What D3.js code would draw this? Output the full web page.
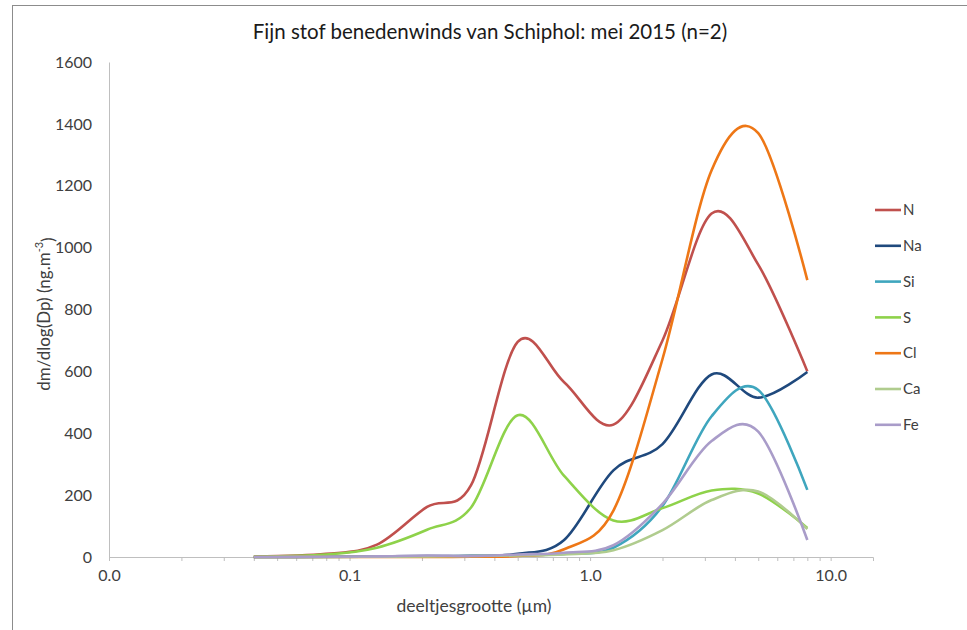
<!DOCTYPE html>
<html>
<head>
<meta charset="utf-8">
<script src="https://cdn.jsdelivr.net/npm/d3@7"></script>
<style>
  body { margin: 0; background: #fff; }
  text { font-family: Lato, "Open Sans", sans-serif; fill: #404040; }
</style>
</head>
<body>
<svg id="chart" width="967" height="630"></svg>
<script>
// particle sizes (um), midpoints of the impactor stages
var sizes = [0.04, 0.08, 0.13, 0.21, 0.32, 0.5, 0.78, 1.25, 2.0, 3.2, 5.0, 8.0];

// dm/dlog(Dp) per element (ng/m3)
var N  = [1, 10, 40, 162, 232, 695, 565, 428, 700, 1110, 945, 600];
var Na = [0, 1, 2, 3, 4, 10, 55, 280, 365, 590, 515, 598];
var Si = [0, 0, 1, 2, 3, 5, 10, 30, 165, 455, 540, 217];
var S  = [1, 8, 30, 88, 160, 458, 262, 118, 158, 215, 205, 94];
var Cl = [0, 0, 0, 0, 1, 3, 25, 150, 640, 1250, 1370, 895];
var Ca = [0, 0, 1, 2, 3, 5, 8, 22, 87, 184, 212, 90];
var Fe = [0, 1, 2, 5, 3, 8, 14, 38, 172, 375, 405, 55];

var names  = ['N', 'Na', 'Si', 'S', 'Cl', 'Ca', 'Fe'];
var colors = ['#C0504D', '#1F497D', '#3FA6BE', '#8ED24A', '#EE7716', '#B0CC8E', '#A99CC9'];
var values = [N, Na, Si, S, Cl, Ca, Fe];

var xTickLabels = [0.01, 0.1, 1, 10];
var yTicks = [0, 200, 400, 600, 800, 1000, 1200, 1400, 1600];

var svg = d3.select('#chart');

// outer frame
svg.append('rect')
  .attr('x', 12.5).attr('y', 5.5)
  .attr('width', 980).attr('height', 640)
  .attr('fill', 'none')
  .attr('stroke', '#8c8c8c');

var x = d3.scaleLog().domain([0.01, 15]).range([109, 873]);
var y = d3.scaleLinear().domain([0, 1600]).range([557, 62]);

// minor + major ticks on the log axis
var allTicks = [];
[0.01, 0.1, 1, 10].forEach(function (dec) {
  for (var k = 1; k <= 9; k++) {
    if (dec * k <= 15) allTicks.push(dec * k);
  }
});

var xAxis = d3.axisBottom(x)
  .tickValues(allTicks)
  .tickSizeInner(4)
  .tickSizeOuter(4)
  .tickPadding(9)
  .tickFormat(function (d) {
    return xTickLabels.indexOf(d) >= 0 ? d3.format('.1f')(d) : '';
  });

var gx = svg.append('g')
  .attr('transform', 'translate(0,557)')
  .call(xAxis);
gx.selectAll('path, line').attr('stroke', '#BFBFBF');
gx.selectAll('text')
  .style('font-size', '16px')
  .style('font-family', 'Lato, "Open Sans", sans-serif')
  .attr('fill', '#404040');

var yAxis = d3.axisLeft(y)
  .tickValues(yTicks)
  .tickSize(0)
  .tickPadding(17)
  .tickFormat(d3.format('d'));

var gy = svg.append('g')
  .attr('transform', 'translate(109,0)')
  .call(yAxis);
gy.select('.domain').attr('stroke', '#BFBFBF');
gy.selectAll('text')
  .style('font-size', '16px')
  .style('font-family', 'Lato, "Open Sans", sans-serif')
  .attr('fill', '#404040');

// lines
var line = d3.line()
  .x(function (d) { return x(d.x); })
  .y(function (d) { return y(d.y); })
  .curve(d3.curveCardinal.tension(0));

names.forEach(function (name, i) {
  var pts = sizes.map(function (s, j) { return { x: s, y: values[i][j] }; });
  svg.append('path')
    .datum(pts)
    .attr('class', 'line line-' + name)
    .attr('fill', 'none')
    .attr('stroke', colors[i])
    .attr('stroke-width', 2.6)
    .attr('stroke-linejoin', 'round')
    .attr('d', line);
});

// legend
var legend = svg.append('g').attr('class', 'legend');
names.forEach(function (name, i) {
  var ly = 210 + i * 35.8;
  legend.append('line')
    .attr('x1', 875).attr('x2', 901)
    .attr('y1', ly).attr('y2', ly)
    .attr('stroke', colors[i])
    .attr('stroke-width', 2.6);
  legend.append('text')
    .attr('x', 903).attr('y', ly)
    .attr('dy', '0.35em')
    .style('font-size', '15px')
    .text(name);
});

// title
svg.append('text')
  .attr('x', 490).attr('y', 32)
  .attr('text-anchor', 'middle')
  .attr('dy', '0.35em')
  .style('font-size', '20.5px')
  .style('fill', '#1a1a1a')
  .text('Fijn stof benedenwinds van Schiphol: mei 2015 (n=2)');

// axis titles
svg.append('text')
  .attr('x', 474).attr('y', 606)
  .attr('text-anchor', 'middle')
  .attr('dy', '0.35em')
  .style('font-size', '17.5px')
  .text('deeltjesgrootte (\u00b5m)');

var yt = svg.append('text')
  .attr('transform', 'translate(44,314) rotate(-90)')
  .attr('text-anchor', 'middle')
  .attr('dy', '0.35em')
  .style('font-size', '17px');
yt.append('tspan').text('dm/dlog(Dp) (ng.m');
yt.append('tspan').attr('dy', '-0.6em').style('font-size', '11px').text('-3');
yt.append('tspan').attr('dy', '0.6em').text(')');
</script>
</body>
</html>
